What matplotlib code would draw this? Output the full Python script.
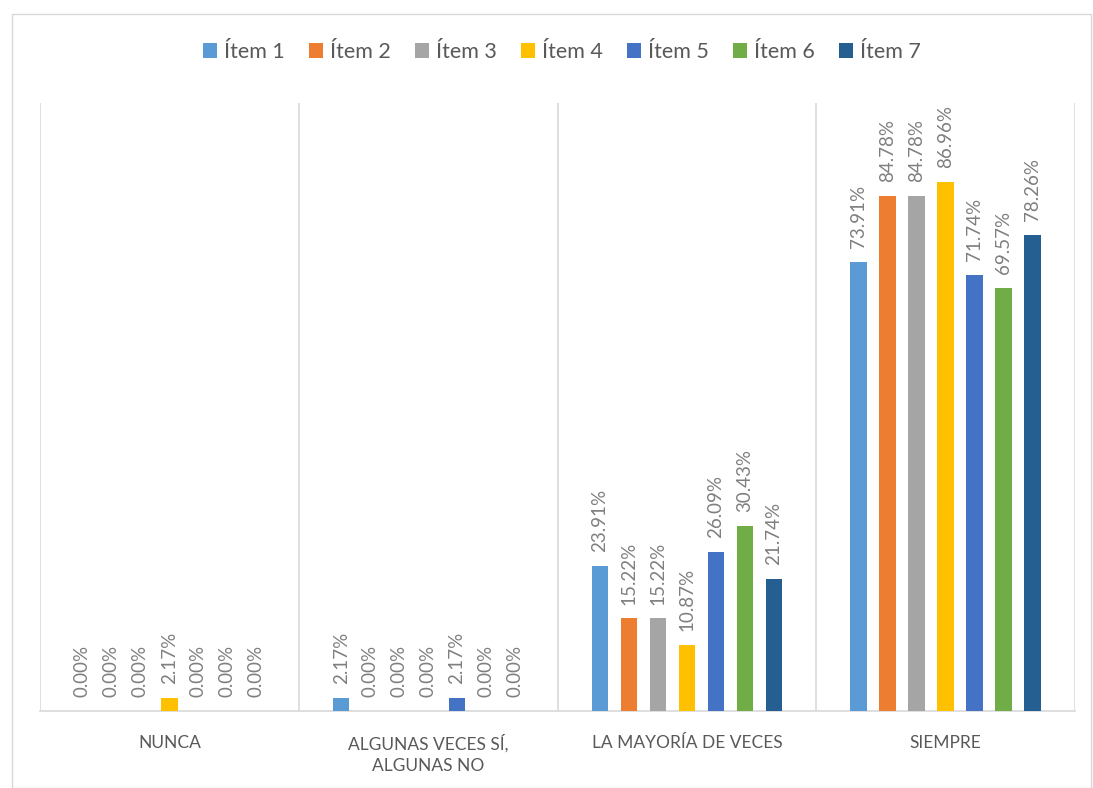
import matplotlib
matplotlib.use("Agg")
import matplotlib.pyplot as plt
import numpy as np
from matplotlib.patches import Rectangle

categories = ["NUNCA", "ALGUNAS VECES SÍ,\nALGUNAS NO", "LA MAYORÍA DE VECES", "SIEMPRE"]
series_names = ["Ítem 1", "Ítem 2", "Ítem 3", "Ítem 4", "Ítem 5", "Ítem 6", "Ítem 7"]
values = [
    [0.00, 2.17, 23.91, 73.91],
    [0.00, 0.00, 15.22, 84.78],
    [0.00, 0.00, 15.22, 84.78],
    [2.17, 0.00, 10.87, 86.96],
    [0.00, 2.17, 26.09, 71.74],
    [0.00, 0.00, 30.43, 69.57],
    [0.00, 0.00, 21.74, 78.26],
]
colors = ["#5B9BD5", "#ED7D31", "#A5A5A5", "#FFC000", "#4472C4", "#70AD47", "#255E91"]

plt.rcParams['font.family'] = ['Lato', 'DejaVu Sans']
fig = plt.figure(figsize=(10.93, 7.88), dpi=100)
W, H = 1093, 788
ax = fig.add_axes([40 / W, 1 - 711 / H, (1075 - 40) / W, (711 - 103) / H])

x = np.arange(len(categories))
step = 0.112
bw = 0.064
n = len(series_names)
for i, (name, vals, c) in enumerate(zip(series_names, values, colors)):
    pos = x + (i - (n - 1) / 2) * step
    ax.bar(pos, vals, width=bw, color=c, label=name, zorder=3)
    for p, v in zip(pos, vals):
        ax.annotate(f"{v:.2f}%", (p, v), xytext=(0, 10), textcoords="offset points",
                    rotation=90, ha="center", va="bottom", fontsize=13.5, color="#7F7F7F")

ax.set_xlim(-0.5, len(categories) - 0.5)
ax.set_ylim(0, 100)
ax.set_yticks([])
ax.set_xticks(x)
ax.set_xticklabels(categories, fontsize=12.5, color="#595959", linespacing=1.35)
ax.tick_params(axis="x", length=0, pad=17)
for s in ["top", "right", "left"]:
    ax.spines[s].set_visible(False)
ax.spines["bottom"].set_color("#D9D9D9")
ax.spines["bottom"].set_linewidth(1.2)
for b in np.arange(-0.5, len(categories), 1.0):
    ax.axvline(b, color="#D9D9D9", lw=1.2, zorder=1)

fig.legend(loc="center", bbox_to_anchor=(562 / W, 1 - 52 / H), ncol=7, frameon=False,
           fontsize=15.5, handlelength=0.65, handleheight=0.65, handletextpad=0.3,
           columnspacing=1.15, labelcolor="#595959")

fig.patches.append(Rectangle((12 / W, 0), (1091 - 12) / W, 1 - 14 / H, transform=fig.transFigure,
                             fill=False, edgecolor="#D9D9D9", lw=1.0))

fig.savefig("out.png", dpi=100)
